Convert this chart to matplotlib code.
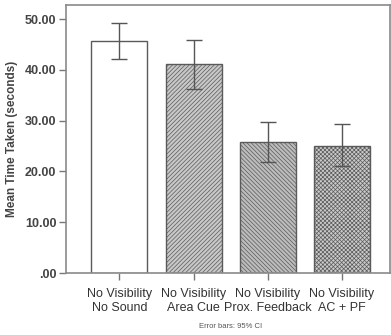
import matplotlib
matplotlib.use("Agg")
import matplotlib.pyplot as plt
import numpy as np

categories = ["No Visibility\nNo Sound", "No Visibility\nArea Cue",
              "No Visibility\nProx. Feedback", "No Visibility\nAC + PF"]
means = [45.7, 41.1, 25.8, 25.1]
ci_low = [42.1, 36.2, 21.8, 21.0]
ci_high = [49.2, 46.0, 29.8, 29.4]
yticks = [0, 10, 20, 30, 40, 50]
ytick_labels = [".00", "10.00", "20.00", "30.00", "40.00", "50.00"]

plt.rcParams['font.family'] = ['Liberation Sans', 'DejaVu Sans']
plt.rcParams['hatch.linewidth'] = 0.5
plt.rcParams['hatch.color'] = '#808080'

fig = plt.figure(figsize=(3.91, 3.35), dpi=100)
ax = fig.add_axes([66/391, 1-273/335, (390-66)/391, (273-5)/335])

x = np.arange(len(categories))
faces = ['white', '#c8c8c8', '#bcbcbc', '#cacaca']
hatches = [None, '////////', '\\\\\\\\\\\\\\\\', 'xxxxxxxx']
for i in range(len(categories)):
    ax.bar(x[i], means[i], width=0.755, color=faces[i], edgecolor='#5a5a5a',
           linewidth=1.0, hatch=hatches[i], zorder=2)
yerr = [np.array(means) - np.array(ci_low), np.array(ci_high) - np.array(means)]
ax.errorbar(x, means, yerr=yerr, fmt='none', ecolor='#555555', elinewidth=1.0,
            capsize=6, capthick=1.0, zorder=3)

ax.set_xlim(-0.72, 3.65)
ax.set_ylim(0, 52.8)
ax.set_yticks(yticks)
ax.set_yticklabels(ytick_labels, fontsize=9, fontweight='bold', color='#444444')
ax.set_xticks(x)
ax.set_xticklabels(categories, fontsize=9, color='#333333', linespacing=1.15)
ax.tick_params(axis='both', color='#777777', length=5, width=1)
ax.tick_params(axis='x', pad=6)
ax.tick_params(axis='y', pad=2)
for s in ax.spines.values():
    s.set_color('#8a8a8a')
    s.set_linewidth(1.2)
ax.set_ylabel("Mean Time Taken (seconds)", fontsize=8.5, fontweight='bold',
              color='#444444', labelpad=5)

fig.text(231/391, 1-326/335, "Error bars: 95% CI", fontsize=5.5, color='#555555',
         ha='center', va='center')

fig.savefig("out.png", dpi=100)
